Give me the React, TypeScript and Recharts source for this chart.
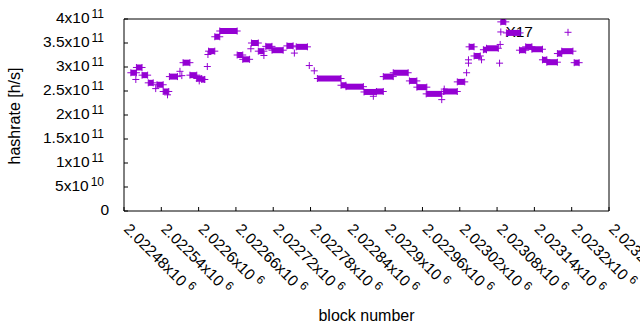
import React from 'react'
import { ComposedChart, Line, Scatter, XAxis, YAxis, Legend } from 'recharts'

// gnuplot-style hashrate plot: "+" points, dense runs of blocks look like thick bars
const PURPLE = '#9400d3'
const FONT = '"Liberation Sans", Arial, sans-serif'

const xTicks = [
  2022480, 2022540, 2022600, 2022660, 2022720, 2022780, 2022840,
  2022900, 2022960, 2023020, 2023080, 2023140, 2023200, 2023260,
]
const yTicks = [0, 5e10, 1e11, 1.5e11, 2e11, 2.5e11, 3e11, 3.5e11, 4e11]
const seriesTitle = 'X17'

// runs of consecutive blocks with (almost) the same estimate
const runStart = [
  2022491, 2022500, 2022509, 2022519, 2022533, 2022543, 2022553, 2022575,
  2022586, 2022597, 2022605, 2022616, 2022626, 2022634, 2022662, 2022671,
  2022685, 2022696, 2022708, 2022718, 2022742, 2022757, 2022791, 2022829,
  2022837, 2022866, 2022886, 2022897, 2022913, 2022939, 2022951, 2022966,
  2022994, 2023016, 2023035, 2023043, 2023058, 2023063, 2023086, 2023095,
  2023116, 2023126, 2023136, 2023153, 2023160, 2023177, 2023184, 2023204,
]
const runEnd = [
  2022500, 2022509, 2022518, 2022527, 2022543, 2022552, 2022566, 2022586,
  2022597, 2022605, 2022610, 2022626, 2022634, 2022662, 2022671, 2022682,
  2022696, 2022705, 2022718, 2022736, 2022752, 2022775, 2022829, 2022837,
  2022865, 2022886, 2022897, 2022913, 2022937, 2022951, 2022967, 2022991,
  2023016, 2023028, 2023043, 2023053, 2023063, 2023082, 2023094, 2023117,
  2023126, 2023136, 2023153, 2023160, 2023177, 2023184, 2023202, 2023212,
]
const runRate = [
  2.88e11, 2.99e11, 2.83e11, 2.67e11, 2.63e11, 2.49e11, 2.8e11, 3.09e11,
  2.83e11, 2.76e11, 2.74e11, 3.33e11, 3.63e11, 3.75e11, 3.25e11, 3.16e11,
  3.5e11, 3.33e11, 3.43e11, 3.35e11, 3.44e11, 3.42e11, 2.76e11, 2.62e11,
  2.59e11, 2.48e11, 2.49e11, 2.8e11, 2.88e11, 2.71e11, 2.58e11, 2.44e11,
  2.49e11, 2.69e11, 3.42e11, 3.23e11, 3.36e11, 3.39e11, 3.94e11, 3.71e11,
  3.35e11, 3.42e11, 3.37e11, 3.15e11, 3.1e11, 3.28e11, 3.33e11, 3.09e11,
]

// isolated blocks
const singleBlock = [
  2022499, 2022531, 2022550, 2022570, 2022573, 2022601, 2022609, 2022614,
  2022615, 2022684, 2022705, 2022754, 2022778, 2022786, 2022881, 2022991,
  2022995, 2023031, 2023034, 2023034, 2023055, 2023085, 2023084, 2023086,
]
const singleRate = [
  2.74e11, 2.55e11, 2.42e11, 2.91e11, 2.82e11, 2.71e11, 2.74e11, 3.01e11,
  3.26e11, 3.38e11, 3.24e11, 3.29e11, 3.03e11, 2.92e11, 2.39e11, 2.32e11,
  2.54e11, 2.88e11, 3.15e11, 3.08e11, 3.15e11, 3.47e11, 3.08e11, 3.73e11,
]

const runs = runStart.map((s, i) => [
  { block: s, hashrate: runRate[i] },
  { block: runEnd[i], hashrate: runRate[i] },
])
const singles = singleBlock.map((b, i) => ({ block: b, hashrate: singleRate[i] }))

const sciParts = (v: number, digits: number) => {
  if (v === 0) return null
  const exp = Math.floor(Math.log10(v) + 1e-9)
  const mant = parseFloat((v / Math.pow(10, exp)).toPrecision(digits))
  return { mant: String(mant), exp: String(exp) }
}

const Plus = ({ cx, cy }: any) => {
  if (cx == null || cy == null) return <g />
  return (
    <path
      d={`M${cx - 3.5},${cy}H${cx + 3.5}M${cx},${cy - 3.5}V${cy + 3.5}`}
      stroke={PURPLE}
      strokeWidth={1}
      fill="none"
    />
  )
}

const XTick = ({ x, y, payload }: any) => {
  const p = sciParts(payload.value, 6)!
  const tx = x - 1
  return (
    <text x={tx} y={y} transform={`rotate(45 ${tx} ${y})`} fontSize={15.5} fill="#000">
      {p.mant}x10
      <tspan dx={4} dy={-5.5} fontSize={12}>{p.exp}</tspan>
    </text>
  )
}

const YTick = ({ x, y, payload }: any) => {
  const p = sciParts(payload.value, 3)
  if (!p) {
    return (
      <text x={x + 5} y={y + 4} textAnchor="end" fontSize={15.5} fill="#000">0</text>
    )
  }
  return (
    <text x={x} y={y + 4} textAnchor="end" fontSize={15.5} fill="#000">
      {p.mant}x10
      <tspan dx={2} dy={-5.5} fontSize={12}>{p.exp}</tspan>
    </text>
  )
}

const YLabel = ({ viewBox }: any) => {
  const lx = viewBox.x + 20
  const cy = viewBox.y + viewBox.height / 2 + 1
  return (
    <text x={lx} y={cy} transform={`rotate(-90 ${lx} ${cy})`} textAnchor="middle" fontSize={16} fill="#000">
      hashrate [h/s]
    </text>
  )
}

const KeyBox = () => (
  <svg width={110} height={25} style={{ overflow: 'visible' }}>
    <text x={53} y={17} textAnchor="end" fontSize={15.5} fill="#000" fontFamily={FONT}>
      {seriesTitle}
    </text>
    <Plus cx={88} cy={12.3} />
  </svg>
)

const xDomain = [xTicks[0], xTicks[xTicks.length - 1]]
const yDomain = [yTicks[0], yTicks[yTicks.length - 1]]

export default function App() {
  return (
    <div style={{ position: 'absolute', left: 0, top: 0, fontFamily: FONT }}>
      <ComposedChart width={640} height={330} margin={{ top: 0, right: 0, bottom: 0, left: 0 }}>
        <XAxis
          xAxisId="b"
          dataKey="block"
          type="number"
          domain={xDomain}
          ticks={xTicks}
          interval={0}
          height={119}
          tickSize={-4}
          tickMargin={23}
          tick={<XTick />}
          axisLine={{ stroke: '#000' }}
          tickLine={{ stroke: '#000' }}
          allowDataOverflow
          label={{ value: 'block number', position: 'insideBottom', offset: 9, fontSize: 16, fill: '#000' }}
        />
        <XAxis
          xAxisId="t"
          orientation="top"
          dataKey="block"
          type="number"
          domain={xDomain}
          ticks={xTicks}
          interval={0}
          height={19}
          tickSize={-4}
          tick={false}
          axisLine={{ stroke: '#000' }}
          tickLine={{ stroke: '#000' }}
          allowDataOverflow
        />
        <YAxis
          yAxisId="l"
          dataKey="hashrate"
          type="number"
          domain={yDomain}
          ticks={yTicks}
          interval={0}
          width={124}
          tickSize={-4}
          tickMargin={24}
          tick={<YTick />}
          axisLine={{ stroke: '#000' }}
          tickLine={{ stroke: '#000' }}
          allowDataOverflow
          label={{ content: <YLabel /> }}
        />
        <YAxis
          yAxisId="r"
          orientation="right"
          dataKey="hashrate"
          type="number"
          domain={yDomain}
          ticks={yTicks}
          interval={0}
          width={31}
          tickSize={-4}
          tick={false}
          axisLine={{ stroke: '#000' }}
          tickLine={{ stroke: '#000' }}
          allowDataOverflow
        />
        <Legend
          layout="vertical"
          align="center"
          verticalAlign="middle"
          content={<KeyBox />}
          wrapperStyle={{ left: 480, top: 20, width: 110, height: 25, zIndex: -1 }}
        />
        {runs.map((run, i) => (
          <Line
            key={`run-${i}`}
            xAxisId="b"
            yAxisId="l"
            data={run}
            dataKey="hashrate"
            stroke={PURPLE}
            strokeWidth={6}
            dot={(p: any) => <Plus key={`d-${i}-${p.index}`} cx={p.cx} cy={p.cy} />}
            activeDot={false}
            legendType="none"
            isAnimationActive={false}
          />
        ))}
        <Scatter
          xAxisId="b"
          yAxisId="l"
          data={singles}
          dataKey="hashrate"
          shape={<Plus />}
          legendType="none"
          isAnimationActive={false}
        />
      </ComposedChart>
    </div>
  )
}
